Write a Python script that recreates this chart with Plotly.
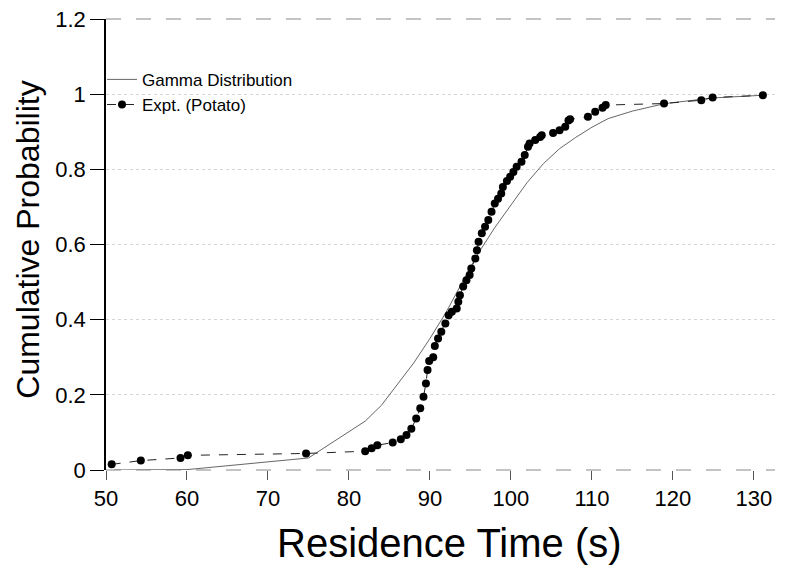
import plotly.graph_objects as go

# Experimental cumulative distribution (Potato)
expt_t = [50.7, 54.3, 59.2, 60.1, 74.7, 82.0, 82.8, 83.5, 85.4, 86.4, 87.1, 87.7, 88.3, 88.8,
          89.2, 89.5, 89.7, 89.9, 90.4, 90.6, 91.0, 91.4, 91.9, 92.3, 92.7, 93.3, 93.5, 93.7,
          94.1, 94.5, 94.9, 95.1, 95.6, 95.8, 96.0, 96.4, 96.8, 97.2, 97.6, 98.0, 98.4, 98.8,
          99.0, 99.5, 99.9, 100.3, 100.7, 101.3, 101.7, 102.1, 102.3, 103.0, 103.6, 103.8,
          105.2, 106.0, 106.7, 107.1, 107.3, 109.5, 110.4, 111.3, 111.7, 118.9, 123.5, 124.9,
          131.1]
expt_p = [0.015, 0.025, 0.032, 0.039, 0.044, 0.050, 0.058, 0.066, 0.073, 0.082, 0.093, 0.110,
          0.137, 0.164, 0.195, 0.230, 0.266, 0.290, 0.300, 0.330, 0.350, 0.368, 0.390, 0.412,
          0.421, 0.430, 0.448, 0.465, 0.488, 0.505, 0.519, 0.536, 0.563, 0.585, 0.607, 0.630,
          0.647, 0.665, 0.687, 0.709, 0.722, 0.736, 0.753, 0.769, 0.780, 0.793, 0.807, 0.820,
          0.838, 0.860, 0.869, 0.878, 0.886, 0.891, 0.897, 0.904, 0.913, 0.930, 0.933, 0.940,
          0.953, 0.964, 0.971, 0.975, 0.984, 0.991, 0.997]

# Gamma distribution curve
gamma_t = [51, 60, 75, 82, 84, 86, 88, 90, 92, 94, 96, 98, 100, 102, 104, 106, 108, 110,
           112, 115, 119, 125, 131]
gamma_p = [0.0, 0.001, 0.032, 0.13, 0.172, 0.23, 0.285, 0.35, 0.42, 0.50, 0.578, 0.645,
           0.705, 0.765, 0.815, 0.855, 0.885, 0.912, 0.935, 0.955, 0.975, 0.99, 0.997]

x_ticks = [50, 60, 70, 80, 90, 100, 110, 120, 130]
y_ticks = [0, 0.2, 0.4, 0.6, 0.8, 1.0, 1.2]
y_tick_labels = ["0", "0.2", "0.4", "0.6", "0.8", "1", "1.2"]

FONT = "Liberation Sans, Arial, sans-serif"

fig = go.Figure()
fig.add_trace(go.Scatter(
    x=gamma_t, y=gamma_p, mode="lines", name="Gamma Distribution",
    line=dict(color="#666666", width=1)))
fig.add_trace(go.Scatter(
    x=expt_t, y=expt_p, mode="lines+markers", name="Expt. (Potato)",
    line=dict(color="#222222", width=1, dash="dash"),
    marker=dict(symbol="circle", size=8, color="black")))

# faint dashed frame lines (top and bottom)
fig.add_shape(type="line", xref="paper", yref="paper", x0=0, x1=1, y0=1, y1=1,
              line=dict(color="#888888", width=1, dash="longdash"))
fig.add_shape(type="line", xref="paper", yref="paper", x0=0, x1=1, y0=0, y1=0,
              line=dict(color="#888888", width=1, dash="longdash"))

# axis titles as annotations for exact placement
fig.add_annotation(text="Residence Time (s)", xref="paper", yref="paper",
                   x=0.514, y=-0.162, xanchor="center", yanchor="middle",
                   showarrow=False, font=dict(family=FONT, size=40, color="black"))
fig.add_annotation(text="Cumulative Probability", xref="paper", yref="paper",
                   x=-0.117, y=0.51, xanchor="center", yanchor="middle", textangle=-90,
                   showarrow=False, font=dict(family=FONT, size=32, color="black"))

fig.update_layout(
    width=780, height=566,
    margin=dict(l=98, r=13, t=11, b=104, autoexpand=False),
    paper_bgcolor="white", plot_bgcolor="white",
    showlegend=True,
    legend=dict(x=-0.006, y=0.905, xanchor="left", yanchor="top",
                bgcolor="rgba(0,0,0,0)", itemwidth=30,
                font=dict(family=FONT, size=17, color="black")),
    xaxis=dict(range=[50, 132.6], tickvals=x_ticks, ticks="outside", ticklen=9,
               tickcolor="#555555", tickwidth=1, showline=False, showgrid=False,
               zeroline=False, automargin=False, ticklabeloverflow="allow",
               tickfont=dict(family=FONT, size=22, color="black")),
    yaxis=dict(range=[0, 1.2], tickvals=y_ticks, ticktext=y_tick_labels,
               ticks="outside", ticklen=14, tickcolor="black", tickwidth=1,
               showline=True, linecolor="black", linewidth=1.5,
               showgrid=True, gridcolor="#d5d5d5", griddash="dot", gridwidth=1,
               zeroline=False, automargin=False, ticklabeloverflow="allow",
               tickfont=dict(family=FONT, size=22, color="black")),
)

fig.write_html("out.html")
